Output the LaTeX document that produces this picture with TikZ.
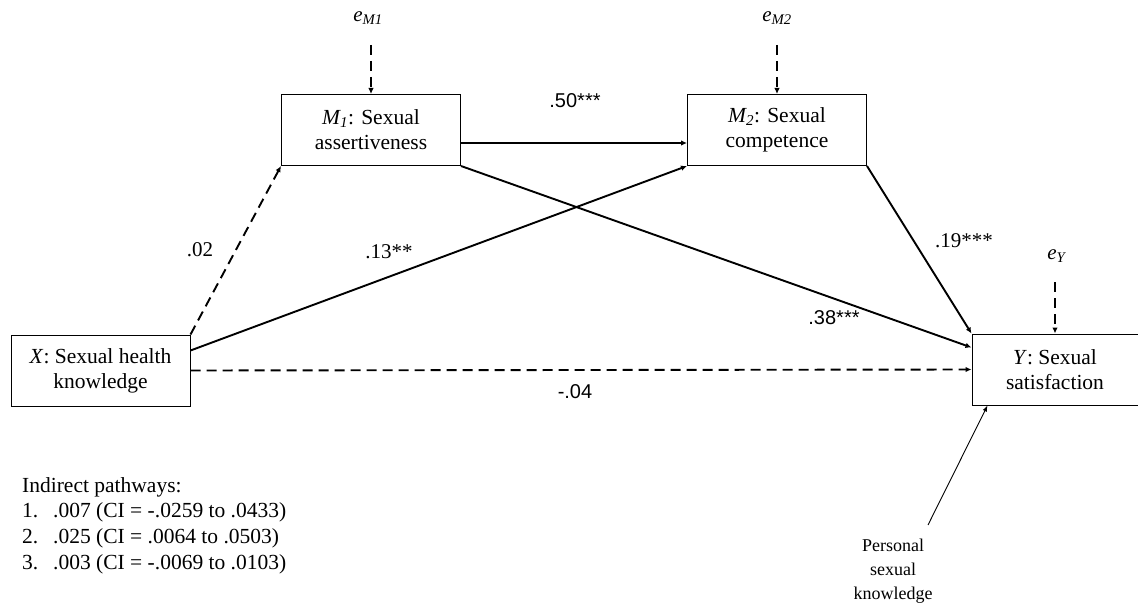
\documentclass[tikz,border=0pt]{standalone}
\usepackage{fontspec}
\setmainfont{Liberation Serif}
\setsansfont{Liberation Sans}
\usetikzlibrary{arrows.meta}
\tikzset{
  varbox/.style={draw, line width=1pt, minimum width=179pt, minimum height=71pt, align=center, inner sep=0pt, font=\fontsize{21.5}{25}\selectfont},
  path/.style={line width=1.9pt, -{Latex[length=6pt,width=5.5pt]}},
  dpath/.style={path, dash pattern=on 10pt off 6pt},
  coef/.style={font=\fontsize{21}{24}\selectfont},
  scoef/.style={font=\sffamily\fontsize{20}{24}\selectfont},
  errlab/.style={font=\fontsize{21}{24}\selectfont},
}
\begin{document}
\begin{tikzpicture}[x=1pt,y=-1pt]
\useasboundingbox (0,0) rectangle (1138,607);
\node[varbox] (M1) at (371,130) {\textit{M\textsubscript{1}}: Sexual\\assertiveness};
\node[varbox] (M2) at (777,130) {\textit{M\textsubscript{2}}: Sexual\\competence};
\node[varbox] (X) at (100.5,370.5) {\textit{X}: Sexual health\\knowledge};
\node[varbox, minimum width=166pt] (Y) at (1055,369.5) {\textit{Y}: Sexual\\satisfaction};
\node[errlab] (eM1) at (368,18) {\textit{e}\textsubscript{\textit{M1}}};
\node[errlab] (eM2) at (777,18) {\textit{e}\textsubscript{\textit{M2}}};
\node[errlab] (eY) at (1057,256) {\textit{e}\textsubscript{\textit{Y}}};
\coordinate (eM1a) at (371,45);
\coordinate (eM2a) at (777,45);
\coordinate (eYa) at (1055,282);
\draw[dpath] (eM1a) -- (M1.north);
\draw[dpath] (eM2a) -- (M2.north);
\draw[dpath] (eYa) -- (Y.north);
\draw[path] ([yshift=-13pt]M1.east) -- ([yshift=-13pt]M2.west);
\draw[dpath] (X.north east) -- (M1.south west);
\draw[path] ([yshift=20pt]X.east) -- (M2.south west);
\draw[path] (M1.south east) -- ([yshift=22pt]Y.west);
\draw[path] (M2.south east) -- (Y.north west);
\draw[dpath] (X.east) -- (Y.west);
\node[scoef] (c50) at (575,101) {.50***};
\node[coef] (c02) at (200,250) {.02};
\node[coef] (c13) at (389,252) {.13**};
\node[scoef] (c38) at (834,318) {.38***};
\node[coef] (c19) at (964,241) {.19***};
\node[scoef] (c04) at (575,392) {-.04};
\node[align=center, font=\fontsize{18}{24}\selectfont] (P) at (893,571) {Personal\\sexual\\knowledge};
\coordinate (Pa) at (928,525);
\draw[line width=0.9pt, -{Latex[length=6pt,width=4.5pt]}] (Pa) -- ([xshift=16pt]Y.south west);
\node[anchor=north west, align=left, inner sep=0pt, font=\fontsize{21.5}{25.7}\selectfont] (IP) at (22,477) {Indirect pathways:\\
\makebox[31pt][l]{1.}.007 (CI = -.0259 to .0433)\\
\makebox[31pt][l]{2.}.025 (CI = .0064 to .0503)\\
\makebox[31pt][l]{3.}.003 (CI = -.0069 to .0103)};
\end{tikzpicture}
\end{document}
